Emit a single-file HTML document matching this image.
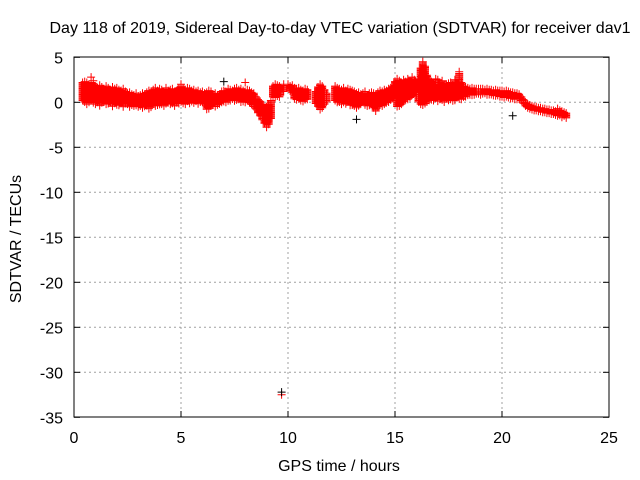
<!DOCTYPE html>
<html><head><meta charset="utf-8">
<style>
body{margin:0;background:#fff;}
svg{display:block;font-family:"Liberation Sans",Arial,sans-serif;}
</style></head>
<body>
<svg id="chart" width="640" height="480" viewBox="0 0 640 480" xmlns="http://www.w3.org/2000/svg">
<rect width="640" height="480" fill="#fff"/>
<text x="340" y="33" font-size="16" text-anchor="middle" fill="#000">Day 118 of 2019, Sidereal Day-to-day VTEC variation (SDTVAR) for receiver dav1</text>
<text x="339" y="471" font-size="16" text-anchor="middle">GPS time / hours</text>
<text transform="translate(21,239) rotate(-90)" font-size="16" text-anchor="middle">SDTVAR / TECUs</text>
<g id="grid"></g>
<g id="ticks"></g>
<g id="marks"></g>
<rect x="74" y="57" width="535" height="360" fill="none" stroke="#000" stroke-width="1"/>
</svg>
<script>
const xTicks=[0,5,10,15,20,25];
const yTicks=[5,0,-5,-10,-15,-20,-25,-30,-35];
const startHour=0.4;
const hiVals=[2.2,2.3,2.2,2.0,2.2,2.1,
1.8,1.6,1.9,1.7,1.5,1.8,1.6,1.4,1.7,1.5,
1.6,1.4,1.3,1.5,1.2,1.0,1.1,0.9,0.8,1.0,
0.7,0.8,1.0,0.9,1.1,1.3,1.2,1.4,1.6,1.3,
1.5,1.4,1.2,1.6,1.3,1.4,1.5,1.2,1.3,1.6,
1.8,1.5,1.4,1.6,1.5,1.3,1.4,1.2,1.3,1.1,
1.2,1.0,1.1,1.3,1.2,0.9,1.0,0.8,0.9,1.2,
1.3,1.2,1.5,1.4,1.3,1.5,1.6,1.4,1.5,1.3,
1.2,1.4,1.3,1.1,1.0,0.6,0.3,0.1,-0.2,-0.6,
-0.5,-0.3,0.2,1.8,2.0,1.9,1.8,null,2.0,null,
null,1.8,1.9,1.6,1.5,1.6,1.4,1.3,1.5,1.4,
null,null,null,1.2,1.7,2.0,1.8,1.4,1.0,null,
null,null,1.8,1.6,1.5,1.4,1.6,1.3,1.5,1.4,
1.3,1.2,1.0,1.1,0.9,1.0,1.2,0.8,1.0,1.1,
1.0,0.9,1.1,1.3,1.2,1.4,1.3,1.5,1.6,1.8,
2.3,2.6,2.4,2.2,2.5,2.3,2.6,2.4,2.8,2.5,
2.2,2.6,3.8,4.5,4.0,3.0,2.5,2.3,2.2,2.6,
2.0,2.2,2.4,1.9,2.0,2.1,2.2,1.9,2.5,2.0,
3.2,2.2,1.8,1.7,1.6,1.5,1.6,1.5,1.5,1.5,
1.5,1.5,1.4,1.5,1.4,1.4,1.3,1.4,1.3,1.3,
1.3,1.2,1.3,1.2,1.1,1.1,1.0,1.0,0.9,0.6,
0.3,0.0,-0.2,-0.3,-0.4,-0.5,-0.5,-0.6,-0.6,-0.7,
-0.7,-0.8,-0.8,-0.9,-0.9,-1.0,-0.7,-0.9,-1.0,-1.1,
-1.2];
const loVals=[0.1,0,-0.2,0,0.2,-0.1,
-0.2,0,-0.4,-0.1,0,-0.3,-0.2,0,-0.5,-0.2,
-0.3,-0.4,-0.1,-0.5,-0.2,-0.3,-0.6,-0.3,-0.5,-0.4,
-0.6,-0.4,-0.7,-0.5,-0.4,-0.8,-0.6,-0.3,-0.5,-0.4,
-0.3,-0.2,-0.4,-0.2,-0.1,-0.3,-0.2,-0.4,-0.1,-0.2,
0,-0.1,-0.3,0.1,-0.2,0,-0.1,0.1,-0.2,0,
-0.1,-0.3,-0.8,-0.7,-0.4,-0.3,-0.5,-0.3,-0.2,-0.1,
0,-0.1,0.1,0.2,0.3,0.1,0.2,0.3,0,0.1,
0,0.1,-0.1,-0.3,-0.5,-0.8,-1.2,-1.6,-2.0,-2.4,
-2.8,-2.5,-1.8,0.6,0.5,0.6,0.5,null,1.2,null,
null,1.2,1.0,0.4,0.2,0.3,0.1,0,0.2,0.3,
null,null,null,-0.2,-0.5,-0.8,-0.6,-0.3,0.0,null,
null,null,0.2,-0.1,0,-0.3,0,-0.2,0.1,-0.4,
-0.3,-0.5,-0.6,-0.4,-0.2,0,-0.3,-0.5,-0.4,-0.2,
-0.6,-1.0,-0.5,-0.3,-0.4,-0.2,-0.1,0,0.2,0.4,
0.8,-0.5,-0.4,-0.2,0,0.2,0.3,0.5,0.8,1.0,
0.5,0.0,-0.2,-0.4,-0.2,0,0.2,0.3,0.2,0.4,
0.1,0.3,0.2,0,0.4,0.2,0.3,0.1,0.2,0.5,
0.4,0.3,0.5,0.6,0.7,0.8,0.8,0.8,0.9,0.9,
0.8,0.9,0.9,0.8,0.8,0.8,0.7,0.7,0.7,0.6,
0.6,0.5,0.6,0.5,0.4,0.4,0.3,0.3,0.3,0.1,
-0.2,-0.5,-0.7,-0.8,-0.9,-1.0,-1.0,-1.1,-1.1,-1.2,
-1.2,-1.3,-1.3,-1.4,-1.4,-1.5,-1.6,-1.5,-1.7,-1.6,
-1.8];
const redOutHours=[0.8,0.9,5.0,8.0,9.7,10.0,17.0,18.0];
const redOutVals=[2.8,2.4,2.0,2.2,-32.5,2.0,2.5,3.4];
const blackOutHours=[7.0,9.7,13.2,20.5];
const blackOutVals=[2.3,-32.2,-1.9,-1.5];

const NS="http://www.w3.org/2000/svg";
function xs(h){return 74+h*21.4;}
function ys(v){return 102.3-v*9;}
const grid=document.getElementById('grid'),ticks=document.getElementById('ticks'),marks=document.getElementById('marks'),svg=document.getElementById('chart');
function line(p,x1,y1,x2,y2,st,dash){const l=document.createElementNS(NS,'line');l.setAttribute('x1',x1);l.setAttribute('y1',y1);l.setAttribute('x2',x2);l.setAttribute('y2',y2);l.setAttribute('stroke',st);if(dash)l.setAttribute('stroke-dasharray',dash);p.appendChild(l);return l;}
function txt(x,y,s,anchor){const t=document.createElementNS(NS,'text');t.setAttribute('x',x);t.setAttribute('y',y);t.setAttribute('font-size','16');t.setAttribute('text-anchor',anchor);t.textContent=s;svg.appendChild(t);return t;}
xTicks.forEach(v=>{const x=xs(v);
 if(v>0&&v<25){const g=line(grid,x,57,x,417,'#a0a0a0','2,3');
 
 }
 line(ticks,x,417,x,411,'#000');line(ticks,x,57,x,63,'#000');
 const t=txt(x,443,String(v),'middle');
 
 
});
yTicks.forEach(v=>{const y=ys(v);
 if(v<5&&v>-35){const g=line(grid,74,y,609,y,'#a0a0a0','2,3');
 
 }
 line(ticks,74,y,80,y,'#000');line(ticks,609,y,603,y,'#000');
 const t=txt(63,y+6,String(v),'end');
 
 
});
function cross(d,x,y){return d+'M'+(x-4)+' '+y+'h8M'+x+' '+(y-4)+'v8';}
let d='';
for(let i=0;i<hiVals.length;i++){
 if(hiVals[i]===null||loVals[i]===null)continue;
 const x=xs(startHour+i*0.1);
 const y1=ys(hiVals[i]),y2=ys(loVals[i]);
 for(let y=y1;y<=y2+0.01;y+=1.2){d=cross(d,x.toFixed(1),y.toFixed(1));}
}
redOutHours.forEach((h,i)=>{d=cross(d,xs(h).toFixed(1),ys(redOutVals[i]).toFixed(1));});
const p=document.createElementNS(NS,'path');p.setAttribute('d',d);p.setAttribute('stroke','#ff0000');p.setAttribute('fill','none');p.setAttribute('stroke-width','1');


marks.appendChild(p);
let d2='';
blackOutHours.forEach((h,i)=>{d2=cross(d2,xs(h).toFixed(1),ys(blackOutVals[i]).toFixed(1));});
const p2=document.createElementNS(NS,'path');p2.setAttribute('d',d2);p2.setAttribute('stroke','#000');p2.setAttribute('fill','none');p2.setAttribute('stroke-width','1');


marks.appendChild(p2);
</script>
</body></html>
